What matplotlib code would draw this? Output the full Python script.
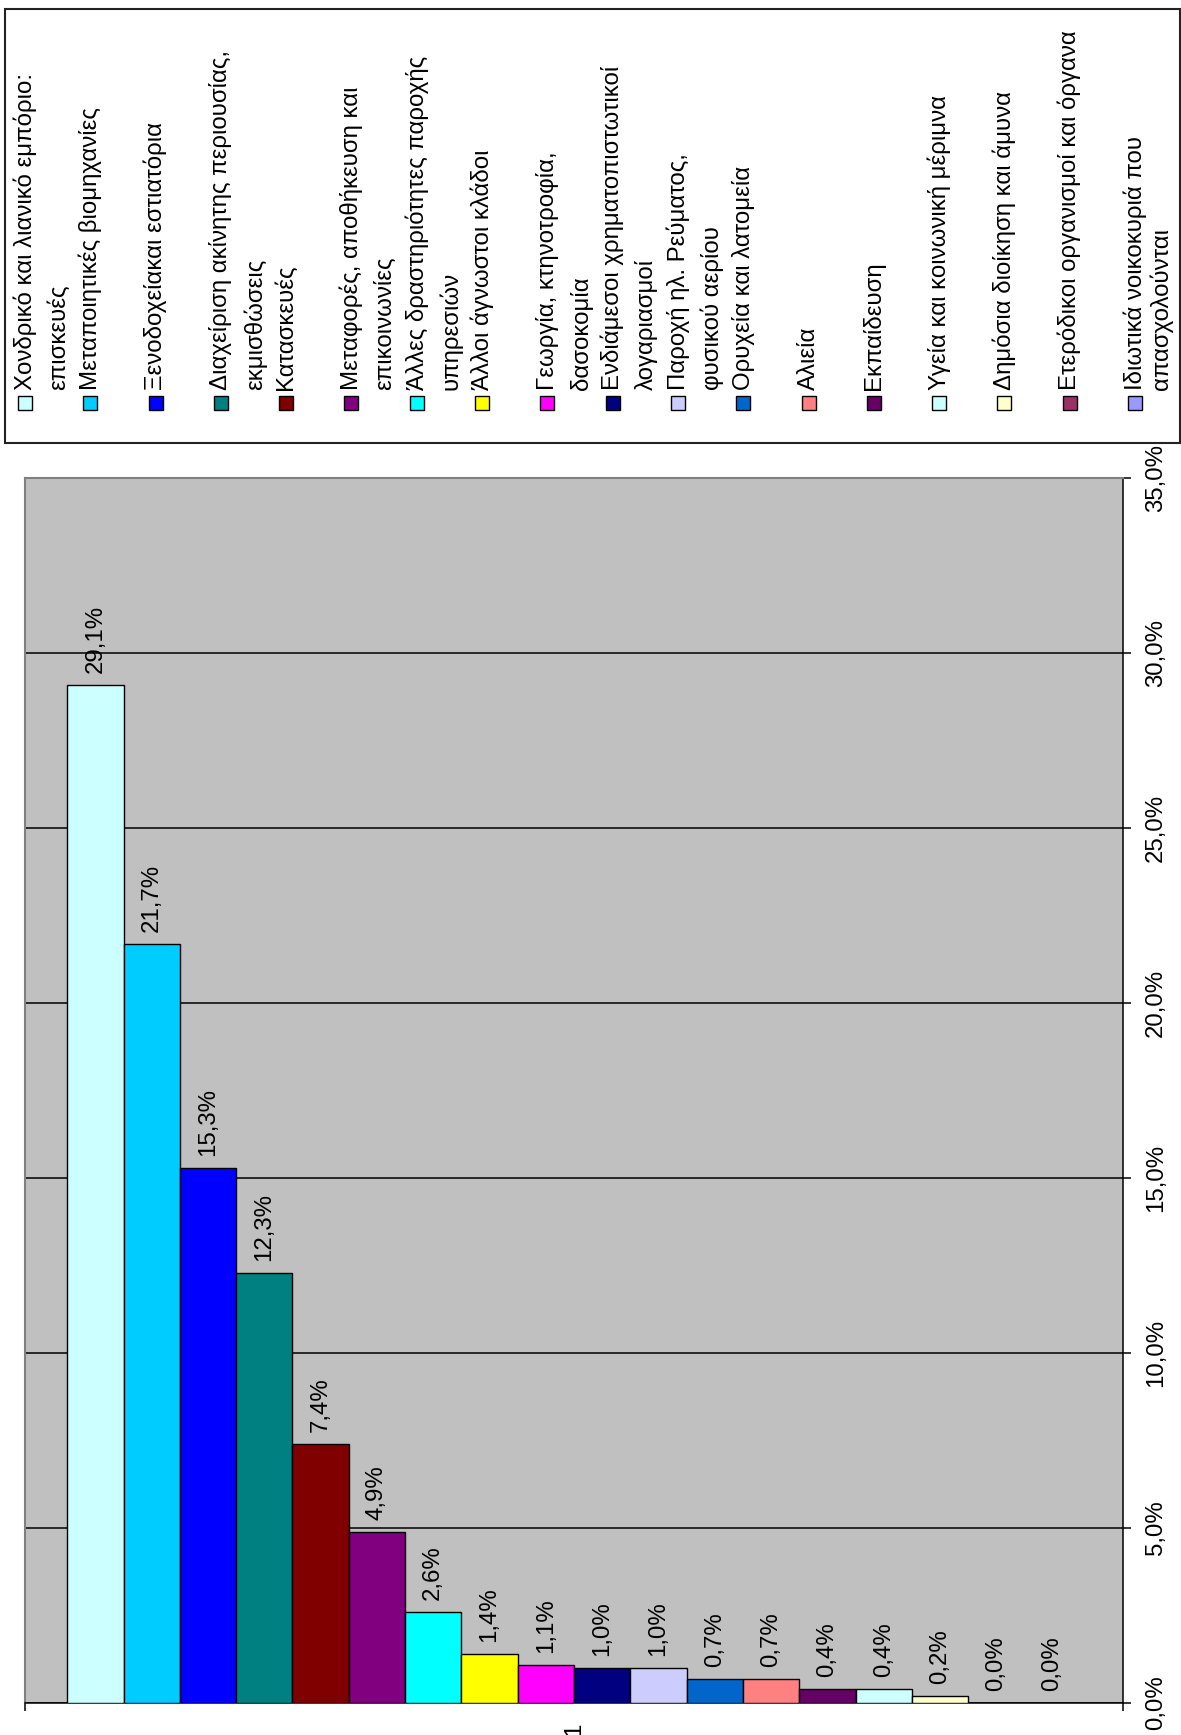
import matplotlib
matplotlib.use('Agg')
import matplotlib.pyplot as plt
from matplotlib.patches import Rectangle
from matplotlib.ticker import FixedLocator, FuncFormatter

W, H, DPI = 1181, 1735, 100

plt.rcParams['font.family'] = ['Liberation Sans', 'DejaVu Sans']
FONT_PX = 24
FS = FONT_PX * 72 / DPI

# sectors in legend order (line breaks as in the original legend)
SECTORS = [
    'Χονδρικό και λιανικό εμπόριο:\nεπισκευές',
    'Μεταποιητικές βιομηχανίες',
    'Ξενοδοχείακαι εστιατόρια',
    'Διαχείριση ακίνητης περιουσίας,\nεκμισθώσεις',
    'Κατασκευές',
    'Μεταφορές, αποθήκευση και\nεπικοινωνίες',
    'Άλλες δραστηριότητες παροχής\nυπηρεσιών',
    'Άλλοι άγνωστοι κλάδοι',
    'Γεωργία, κτηνοτροφία,\nδασοκομία',
    'Ενδιάμεσοι χρηματοπιστωτικοί\nλογαριασμοί',
    'Παροχή ηλ. Ρεύματος,\nφυσικού αερίου',
    'Ορυχεία και λατομεία',
    'Αλιεία',
    'Εκπαίδευση',
    'Υγεία και κοινωνική μέριμνα',
    'Δημόσια διοίκηση και άμυνα',
    'Ετερόδικοι οργανισμοί και όργανα',
    'Ιδιωτικά νοικοκυριά που\nαπασχολούνται',
]
SHARES = [29.1, 21.7, 15.3, 12.3, 7.4, 4.9, 2.6, 1.4, 1.1,
          1.0, 1.0, 0.7, 0.7, 0.4, 0.4, 0.2, 0.0, 0.0]
CATEGORY = '1'
Y_TICKS = [0, 5, 10, 15, 20, 25, 30, 35]

COLORS = ['#CCFFFF', '#00CCFF', '#0000FF', '#008080', '#800000', '#800080',
          '#00FFFF', '#FFFF00', '#FF00FF', '#000080', '#CCCCFF', '#0066CC',
          '#FF8080', '#660066', '#CCFFFF', '#FFFFCC', '#993366', '#9999FF']


def pct(v):
    return f'{v:.1f}%'.replace('.', ',')


def fx(px):
    return px / W


def fy(py):
    return 1 - py / H


fig = plt.figure(figsize=(W / DPI, H / DPI), dpi=DPI)

# plot area
left, right, top, bottom = 25, 1123, 478, 1703
ax = fig.add_axes([fx(left), fy(bottom), fx(right - left), (bottom - top) / H])
ax.set_facecolor('#C0C0C0')

n = len(SHARES)
w = 1 / (n + 1.5)
xs = [0.75 * w + (i + 0.5) * w for i in range(n)]
ax.bar(xs, SHARES, width=w, color=COLORS, edgecolor='black', linewidth=1.0, zorder=3)
for x, v in zip(xs, SHARES):
    ax.annotate(pct(v), (x, v), xytext=(0, 8.5), textcoords='offset points',
                rotation=90, ha='center', va='bottom', fontsize=FS, zorder=2)

ax.set_xlim(0, 1)
ax.set_ylim(0, 35)
ax.yaxis.set_major_locator(FixedLocator(Y_TICKS))
ax.yaxis.set_major_formatter(FuncFormatter(lambda v, p: pct(v)))
ax.yaxis.tick_right()
ax.tick_params(axis='y', direction='out', length=6, width=1.1, pad=10,
               labelsize=FS, labelrotation=90, colors='black')
for lab in ax.get_yticklabels():
    lab.set_va('center')
ax.yaxis.grid(True, color='black', linewidth=1.1, zorder=1)

ax.xaxis.set_major_locator(FixedLocator([0, 1]))
ax.xaxis.set_major_formatter(FuncFormatter(lambda v, p: ''))
ax.xaxis.set_minor_locator(FixedLocator([0.5]))
ax.xaxis.set_minor_formatter(FuncFormatter(lambda v, p: CATEGORY))
ax.tick_params(axis='x', which='major', direction='out', length=6, width=1.1)
ax.tick_params(axis='x', which='minor', length=0, pad=14, labelsize=FS, labelrotation=90)

ax.spines['left'].set_color('#808080')
ax.spines['top'].set_color('#808080')
ax.spines['left'].set_linewidth(1.5)
ax.spines['top'].set_linewidth(1.5)
ax.spines['right'].set_linewidth(1.1)
ax.spines['bottom'].set_linewidth(1.1)

# legend (rotated, one column per entry)
fig.patches.append(Rectangle((fx(5), fy(443)), fx(1175), (443 - 9) / H,
                             transform=fig.transFigure, facecolor='white',
                             edgecolor='#222222', linewidth=1.5, zorder=0))
step = (1135 - 25) / (n - 1)
for i, (name, col) in enumerate(zip(SECTORS, COLORS)):
    cx = 25 + i * step
    gap = 34 if i < n - 1 else 26
    fig.patches.append(Rectangle((fx(cx - 7), fy(410)), fx(14), 14 / H,
                                 transform=fig.transFigure, facecolor=col,
                                 edgecolor='black', linewidth=1.0, zorder=2))
    for k, line in enumerate(name.split('\n')):
        fig.text(fx(cx + k * gap), fy(390), line, rotation=90, ha='center',
                 va='bottom', fontsize=FS)

fig.savefig('out.png', dpi=DPI)
